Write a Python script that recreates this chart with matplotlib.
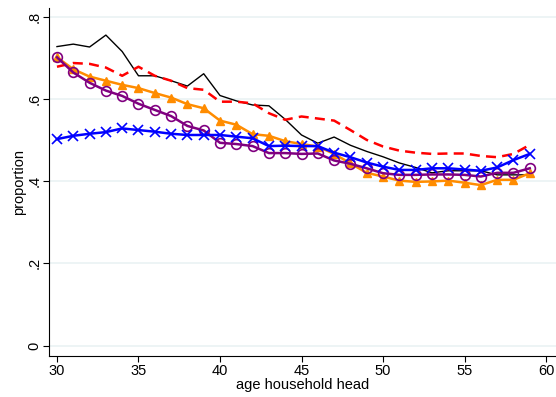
import matplotlib
matplotlib.use("Agg")
import matplotlib.pyplot as plt

plt.rcParams["font.family"] = ["Liberation Sans", "DejaVu Sans"]

# age of household head
age = list(range(30, 60))

black = [0.727, 0.733, 0.726, 0.755, 0.715, 0.656, 0.656, 0.644, 0.631, 0.661,
         0.608, 0.595, 0.585, 0.583, 0.550, 0.512, 0.492, 0.507, 0.487, 0.472,
         0.459, 0.444, 0.433, 0.420, 0.425, 0.425, 0.425, 0.415, 0.415, 0.415]
red = [0.678, 0.687, 0.685, 0.676, 0.656, 0.678, 0.656, 0.644, 0.626, 0.622,
       0.593, 0.593, 0.589, 0.565, 0.549, 0.557, 0.552, 0.547, 0.524, 0.500,
       0.484, 0.474, 0.469, 0.466, 0.467, 0.467, 0.461, 0.458, 0.466, 0.488]
orange = [0.701, 0.672, 0.654, 0.644, 0.634, 0.626, 0.614, 0.603, 0.587, 0.577,
          0.547, 0.537, 0.514, 0.510, 0.497, 0.490, 0.484, 0.466, 0.443, 0.420,
          0.411, 0.401, 0.398, 0.399, 0.401, 0.396, 0.390, 0.403, 0.403, 0.419]
purple = [0.701, 0.664, 0.639, 0.620, 0.607, 0.588, 0.573, 0.558, 0.534, 0.523,
          0.493, 0.490, 0.485, 0.468, 0.468, 0.466, 0.467, 0.450, 0.442, 0.431,
          0.419, 0.415, 0.415, 0.416, 0.416, 0.415, 0.411, 0.420, 0.420, 0.431]
blue = [0.502, 0.510, 0.515, 0.519, 0.528, 0.524, 0.520, 0.515, 0.512, 0.512,
        0.512, 0.508, 0.504, 0.485, 0.486, 0.485, 0.485, 0.469, 0.458, 0.445,
        0.435, 0.427, 0.427, 0.431, 0.431, 0.428, 0.425, 0.433, 0.451, 0.466]

xticks = [30, 35, 40, 45, 50, 55, 60]
yticks = [0, 0.2, 0.4, 0.6, 0.8]
ytick_labels = ["0", ".2", ".4", ".6", ".8"]

fig = plt.figure(figsize=(5.56, 3.97), dpi=100)
ax = fig.add_axes([0.0881, 0.1033, 0.9119, 0.8767])

ax.plot(age, black, color="black", lw=1.0)
ax.plot(age, red, color="#ff0000", lw=1.8, ls=(0, (4, 2.5)))
ax.plot(age, orange, color="#ff8c00", lw=1.8, marker="^", ms=5.5)
ax.plot(age, purple, color="#800080", lw=1.8, marker="o", ms=7,
        mfc="none", mew=1.2)
ax.plot(age, blue, color="#0000ff", lw=1.8, marker="x", ms=7, mew=1.2)

ax.set_xlim(29.51, 60.61)
ax.set_ylim(-0.0255, 0.821)
ax.set_xticks(xticks)
ax.set_yticks(yticks)
ax.set_yticklabels(ytick_labels, rotation=90, va="center")
ax.tick_params(labelsize=10.5, length=4, width=0.8, color="black", pad=1.5)
ax.grid(axis="y", color="#eaf2f3", lw=1.2)
ax.set_axisbelow(True)
for s in ["top", "right"]:
    ax.spines[s].set_visible(False)
ax.set_xlabel("age household head", fontsize=10.5, labelpad=0)
ax.set_ylabel("proportion", fontsize=10.5, labelpad=1)

fig.savefig("out.png", dpi=100)
